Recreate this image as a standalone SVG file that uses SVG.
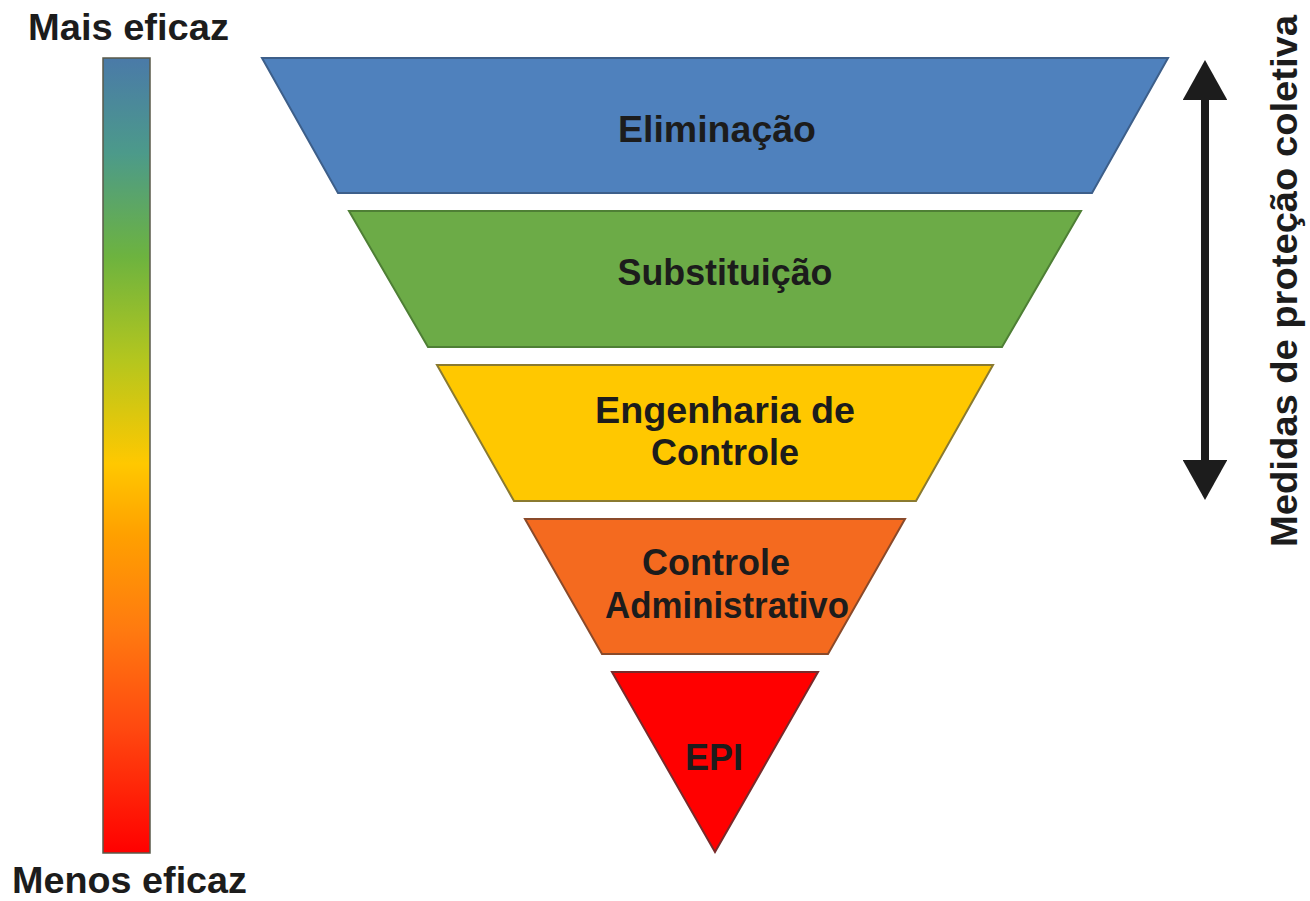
<svg xmlns="http://www.w3.org/2000/svg" width="1310" height="901" viewBox="0 0 1310 901">
<style>
.t{font-family:"Liberation Sans",Arial,sans-serif;font-weight:bold;fill:#1c1c1c}
.lbl{font-size:36px;text-anchor:middle}
.side{font-size:36px}
.lvl{stroke-width:2;stroke-linejoin:miter}
</style>
<defs>
<linearGradient id="grad" x1="0" y1="0" x2="0" y2="1">
<stop offset="0" stop-color="#4a7aa8"/>
<stop offset="0.12" stop-color="#4c9a8a"/>
<stop offset="0.25" stop-color="#6db33f"/>
<stop offset="0.38" stop-color="#b4c61e"/>
<stop offset="0.51" stop-color="#ffc800"/>
<stop offset="0.6" stop-color="#ffa000"/>
<stop offset="0.72" stop-color="#ff7a10"/>
<stop offset="0.84" stop-color="#ff4a10"/>
<stop offset="1" stop-color="#ff0000"/>
</linearGradient>
<marker id="ah" viewBox="0 0 9 10" refX="0" refY="5" markerWidth="5" markerHeight="5.6" orient="auto-start-reverse" markerUnits="strokeWidth">
<path d="M0,0 L9,5 L0,10 z" fill="#1c1c1c"/>
</marker>
</defs>
<rect width="1310" height="901" fill="#ffffff"/>

<g id="scale">
<rect x="103" y="58" width="47" height="795" fill="url(#grad)" stroke="#5a5a4a" stroke-width="1.5"/>
<text class="t side" x="28" y="40" textLength="201" lengthAdjust="spacingAndGlyphs">Mais eficaz</text>
<text class="t side" x="12" y="893" textLength="235" lengthAdjust="spacingAndGlyphs">Menos eficaz</text>
</g>

<g id="eliminacao">
<polygon class="lvl" points="262,58 1168,58 1092,193 338,193" fill="#4f81bd" stroke="#3d5f8a"/>
<text class="t lbl" x="717" y="142" textLength="198" lengthAdjust="spacingAndGlyphs">Eliminação</text>
</g>
<g id="substituicao">
<polygon class="lvl" points="349,211 1081,211 1002,347 428,347" fill="#6cab47" stroke="#4e7f35"/>
<text class="t lbl" x="725" y="285" textLength="215" lengthAdjust="spacingAndGlyphs">Substituição</text>
</g>
<g id="engenharia">
<polygon class="lvl" points="437,365 993,365 916,501 514,501" fill="#ffc800" stroke="#8a7a30"/>
<text class="t lbl" x="725" y="423" textLength="260" lengthAdjust="spacingAndGlyphs">Engenharia de</text>
<text class="t lbl" x="725" y="465">Controle</text>
</g>
<g id="administrativo">
<polygon class="lvl" points="525,519 905,519 828,654 602,654" fill="#f46a1f" stroke="#8a4a2a"/>
<text class="t lbl" x="716" y="575">Controle</text>
<text class="t lbl" x="727" y="618" textLength="244" lengthAdjust="spacingAndGlyphs">Administrativo</text>
</g>
<g id="epi">
<polygon class="lvl" points="612,672 818,672 715,852" fill="#ff0000" stroke="#7a2a2a"/>
<text class="t lbl" x="714" y="770">EPI</text>
</g>

<g id="connectors">
<line x1="1205" y1="100" x2="1205" y2="460" stroke="#1c1c1c" stroke-width="8" marker-start="url(#ah)" marker-end="url(#ah)"/>
</g>
<g id="side-label">
<text class="t side" transform="translate(1297,547) rotate(-90)" textLength="532" lengthAdjust="spacingAndGlyphs">Medidas de proteção coletiva</text>
</g>
</svg>
